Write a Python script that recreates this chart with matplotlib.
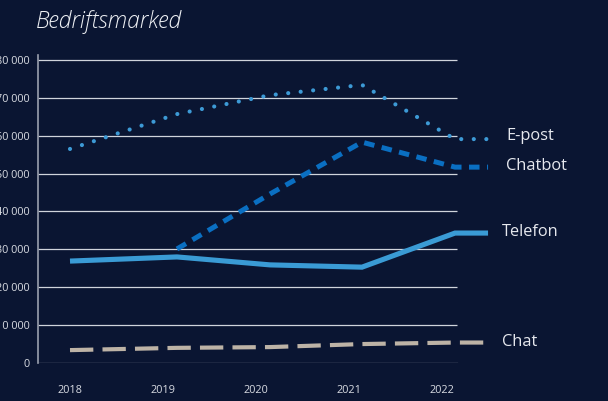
import matplotlib
matplotlib.use("Agg")
import matplotlib.pyplot as plt

# ---- data ----
years = [2018, 2019, 2020, 2021, 2022]
x_pos = [2018.0, 2019.15, 2020.15, 2021.14, 2022.14]
epost = [56500, 65700, 70700, 73400, 59100]
chatbot = [None, 30100, 44600, 58300, 51700]
telefon = [26900, 28000, 25900, 25300, 34300]
chat = [3400, 4000, 4200, 5000, 5400]
yticks = [0, 10000, 20000, 30000, 40000, 50000, 60000, 70000, 80000]
ytick_labels = ["0", "10 000", "20 000", "30 000", "40 000", "50 000", "60 000", "70 000", "80 000"]
stub_x = 2022.495
grid_end = 2022.161

BG = "#0a1532"
C_EPOST = "#3d9ad6"
C_CHATBOT = "#0a6fc2"
C_TELEFON = "#3a9bd5"
C_CHAT = "#bdb3a6"

plt.rcParams['font.family'] = ['Open Sans', 'DejaVu Sans']

fig = plt.figure(figsize=(6.08, 4.01), dpi=100, facecolor=BG)
ax = fig.add_axes([38/608, (401-363)/401, (490-38)/608, (363-55)/401])
ax.set_facecolor(BG)
ax.set_xlim(2017.656, 2022.516)
ax.set_ylim(0, 81300)

# gridlines
for v in yticks[1:]:
    ax.plot([2017.656, grid_end], [v, v], color="#d0d4dc", lw=0.9, zorder=1, solid_capstyle='butt')
ax.plot([2017.656, grid_end], [0, 0], color="#9aa0ae", lw=0.9, zorder=1)

def series(vals, stub=True):
    xs = [x for x, v in zip(x_pos, vals) if v is not None]
    ys = [v for v in vals if v is not None]
    if stub:
        xs = xs + [stub_x]
        ys = ys + [ys[-1]]
    return xs, ys

xs, ys = series(epost)
l, = ax.plot(xs, ys, color=C_EPOST, lw=3.0, zorder=3, clip_on=False)
l.set_dashes([0.01, 3.0]); l.set_dash_capstyle('round')

xs, ys = series(chatbot)
l, = ax.plot(xs, ys, color=C_CHATBOT, lw=3.6, zorder=3, clip_on=False)
l.set_dashes([2.1, 1.5]); l.set_dash_capstyle('butt')

xs, ys = series(telefon)
ax.plot(xs, ys, color=C_TELEFON, lw=3.7, zorder=3, clip_on=False, solid_joinstyle='miter', solid_capstyle='butt')

xs, ys = series(chat)
l, = ax.plot(xs, ys, color=C_CHAT, lw=3.0, zorder=3, clip_on=False)
l.set_dashes([5.6, 2.2]); l.set_dash_capstyle('butt')

# end labels
lab_kw = dict(color="#e6e8ee", fontsize=11.8, va='center', ha='left', transform=fig.transFigure)
fig.text(506/608, 1-136/401, "E-post", **lab_kw)
fig.text(506/608, 1-166/401, "Chatbot", **lab_kw)
fig.text(502/608, 1-232/401, "Telefon", **lab_kw)
fig.text(502/608, 1-342/401, "Chat", **lab_kw)

# axes styling
for s in ['top', 'right', 'bottom']:
    ax.spines[s].set_visible(False)
ax.spines['left'].set_color("#9aa0ae")
ax.spines['left'].set_linewidth(1.2)
ax.set_yticks(yticks)
ax.set_yticklabels(ytick_labels)
ax.set_xticks(years)
ax.set_xticklabels([str(y) for y in years])
ax.tick_params(axis='y', length=0, pad=6, labelsize=7.8, labelcolor="#d8dbe2")
ax.tick_params(axis='x', length=0, pad=16, labelsize=7.8, labelcolor="#d8dbe2")

fig.text(36/608, 1-22/401, "Bedriftsmarked", color="#eef0f4", fontsize=16.5,
         style='italic', fontweight='light', va='center', ha='left')

fig.savefig("out.png", dpi=100, facecolor=BG)
